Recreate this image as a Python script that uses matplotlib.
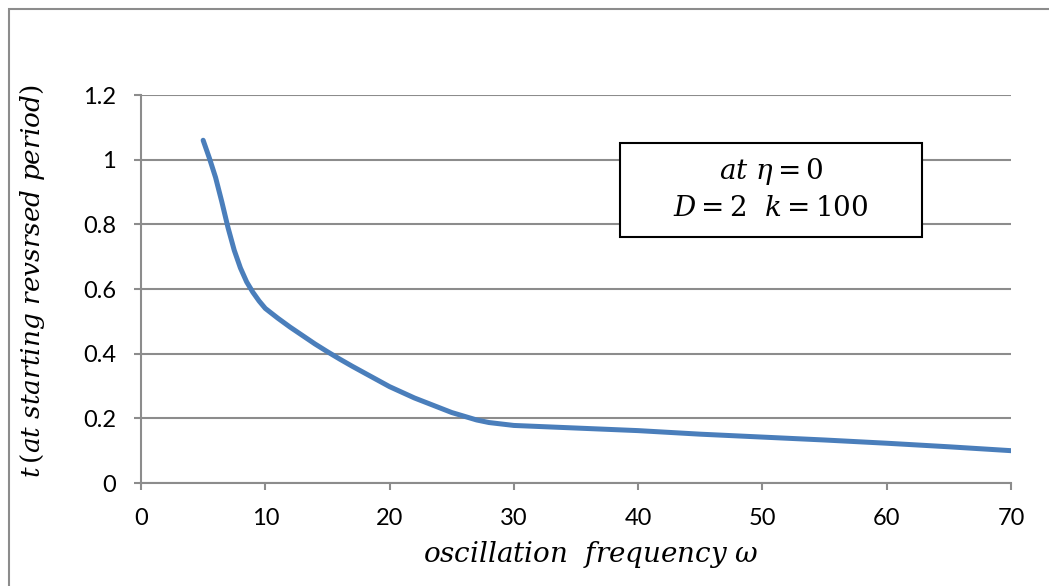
import matplotlib.pyplot as plt
from matplotlib.patches import Rectangle

# data
omega = [5, 5.5, 6, 6.5, 7, 7.5, 8, 8.5, 9, 9.5, 10, 11, 12, 13, 14, 15, 16, 17, 18,
         20, 22, 25, 27, 28, 30, 35, 40, 45, 50, 55, 60, 65, 70]
t_val = [1.06, 1.005, 0.945, 0.87, 0.79, 0.72, 0.665, 0.622, 0.59, 0.563, 0.54, 0.51,
         0.482, 0.456, 0.43, 0.406, 0.383, 0.361, 0.34, 0.298, 0.263, 0.218, 0.195,
         0.187, 0.178, 0.17, 0.162, 0.151, 0.142, 0.133, 0.123, 0.112, 0.10]
xticks = [0, 10, 20, 30, 40, 50, 60, 70]
yticks = [0, 0.2, 0.4, 0.6, 0.8, 1.0, 1.2]
ytick_labels = ["0", "0.2", "0.4", "0.6", "0.8", "1", "1.2"]

plt.rcParams["mathtext.fontset"] = "dejavuserif"
tick_font = ["Lato", "DejaVu Sans"]

fig = plt.figure(figsize=(10.49, 5.86), dpi=100)
ax = fig.add_axes([141 / 1049, 103 / 586, 870 / 1049, 388 / 586])

# outer chart frame
fig.patches.append(Rectangle((9 / 1049, -0.1), 1.2, (586 - 9) / 586 + 0.1,
                             transform=fig.transFigure, fill=False,
                             edgecolor="#8c8c8c", linewidth=1.5))

ax.plot(omega, t_val, color="#4a7ebb", linewidth=3.6,
        solid_joinstyle="round", solid_capstyle="round", zorder=3)

ax.set_xlim(0, 70)
ax.set_ylim(0, 1.2)
ax.set_xticks(xticks)
ax.set_yticks(yticks)
ax.set_yticklabels(ytick_labels)
for lab in ax.get_xticklabels() + ax.get_yticklabels():
    lab.set_family(tick_font)
    lab.set_fontsize(17)

ax.grid(axis="y", color="#8c8c8c", linewidth=1.5)
ax.set_axisbelow(True)
for side in ["top", "right"]:
    ax.spines[side].set_visible(False)
for side in ["left", "bottom"]:
    ax.spines[side].set_color("#8c8c8c")
    ax.spines[side].set_linewidth(1.5)
ax.tick_params(axis="both", direction="out", length=5, width=1.5, color="#8c8c8c")
ax.tick_params(axis="x", pad=13)
ax.tick_params(axis="y", pad=13)

ax.set_xlabel(r"$oscillation\ \ frequency\ \omega$", fontsize=20)
ax.xaxis.set_label_coords(0.517, -0.145)
ax.set_ylabel(r"$t\,(at\ starting\ revsrsed\ period)$", fontsize=19)
ax.yaxis.set_label_coords(-0.108, 0.52)

# annotation box
ax.add_patch(Rectangle((479 / 870, (483 - 237) / 388), 302 / 870, 94 / 388,
                       transform=ax.transAxes, facecolor="white",
                       edgecolor="black", linewidth=1.5, zorder=4))
ax.text(771 / 1049, 1 - 172 / 586, r"$at\ \eta = 0$", transform=fig.transFigure,
        ha="center", va="center", fontsize=20, zorder=5)
ax.text(771 / 1049, 1 - 208 / 586, r"$D = 2\ \ k = 100$", transform=fig.transFigure,
        ha="center", va="center", fontsize=20, zorder=5)

fig.savefig("out.png", dpi=100)
